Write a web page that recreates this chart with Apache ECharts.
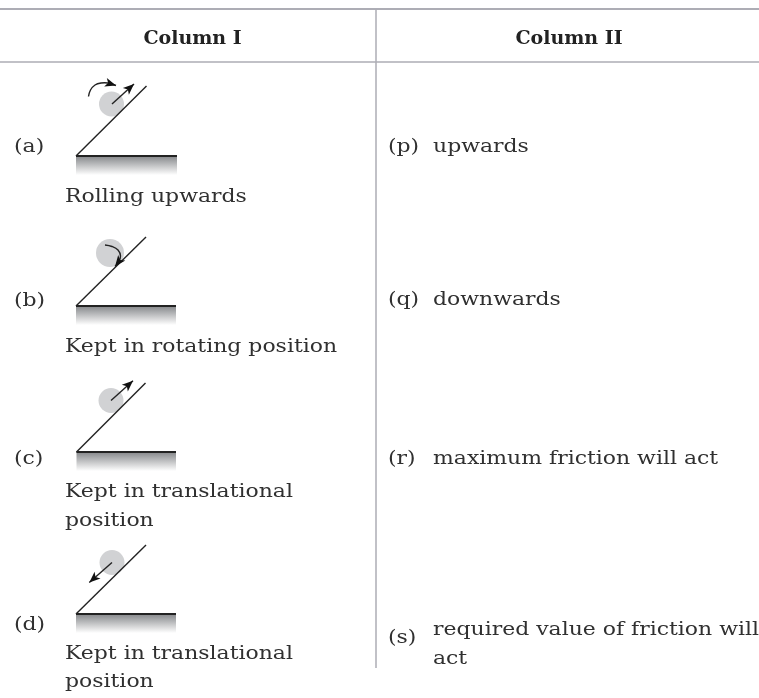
<!DOCTYPE html>
<html><head><meta charset="utf-8">
<style>html,body{margin:0;padding:0;background:#fff}#c{width:759px;height:698px}</style>
<script src="https://cdn.jsdelivr.net/npm/echarts@6/dist/echarts.min.js"></script>
</head><body><div id="c"></div>
<script>
// text: [x, baseline y, string]
var headers = [[192.5,45,'Column I'],[569,45,'Column II']];
var bodyTexts = [
 [14,153,'(a)'],[65,203,'Rolling upwards'],
 [14,307,'(b)'],[65,353,'Kept in rotating position'],
 [14,465,'(c)'],[65,498,'Kept in translational'],[65,527,'position'],
 [14,631,'(d)'],[65,660,'Kept in translational'],[65,688,'position'],
 [388,153,'(p)'],[433,153,'upwards'],
 [388,306,'(q)'],[433,306,'downwards'],
 [388,465,'(r)'],[433,465,'maximum friction will act'],
 [388,644,'(s)'],[433,636,'required value of friction will'],[433,665,'act']
];
// table rules: [x1,y1,x2,y2,width]
var rules = [[0,9,759,9,2],[0,62,759,62,1.5],[376,9,376,668,1.5]];
// inclined planes: left foot x,y ; top of incline x,y ; right end x
var planes = [[76,156,146.5,86,177],[76,306,146,237,176],[76.5,452,145.5,383,176],[76,614,146,545,176]];
// rolling bodies: cx, cy, r
var discs = [[111.5,104,12.5],[110,253,14],[111,400.5,12.5],[112,562.5,12.5]];
// arrows as point lists, arrowhead on last point
var arrows = [
 [[112,104],[134,84]],
 [[88.5,96.5],[90.5,90],[95,85],[101,83],[108,83],[116,85.5]],
 [[105,245],[112,246.5],[118,250],[120.5,256],[118.5,262],[115,266.5]],
 [[111,400.5],[133,380.7]],
 [[112,562.5],[89.3,582.5]]
];
function head(api,p,q,len,wid,color){
  var a=api.coord(p),b=api.coord(q);
  var dx=b[0]-a[0],dy=b[1]-a[1],l=Math.sqrt(dx*dx+dy*dy);dx/=l;dy/=l;
  var nx=-dy,ny=dx;
  return {type:'polygon',shape:{points:[
    b,
    [b[0]-dx*len+nx*wid,b[1]-dy*len+ny*wid],
    [b[0]-dx*len*0.75,b[1]-dy*len*0.75],
    [b[0]-dx*len-nx*wid,b[1]-dy*len-ny*wid]
  ]},style:{fill:color}};
}
var ink='#222';
var serif='"DejaVu Serif"';
var option={
 animation:false,
 backgroundColor:'#fff',
 grid:{left:0,right:0,top:0,bottom:0},
 xAxis:{type:'value',min:0,max:759,show:false},
 yAxis:{type:'value',min:0,max:698,inverse:true,show:false},
 series:[
  {type:'custom',coordinateSystem:'cartesian2d',silent:true,clip:false,data:rules,
   encode:{x:0,y:1},
   renderItem:function(p,api){
    var a=api.coord([api.value(0),api.value(1)]),b=api.coord([api.value(2),api.value(3)]);
    return {type:'line',shape:{x1:a[0],y1:a[1],x2:b[0],y2:b[1]},style:{stroke:'#adadb5',lineWidth:api.value(4)}};
   }},
  {type:'custom',coordinateSystem:'cartesian2d',silent:true,clip:false,data:discs,
   encode:{x:0,y:1},
   renderItem:function(p,api){
    var c=api.coord([api.value(0),api.value(1)]);
    return {type:'circle',shape:{cx:c[0],cy:c[1],r:api.value(2)},style:{fill:'#d1d2d4'}};
   }},
  {type:'custom',coordinateSystem:'cartesian2d',silent:true,clip:false,data:planes,
   encode:{x:0,y:1},
   renderItem:function(p,api){
    var f=api.coord([api.value(0),api.value(1)]),t=api.coord([api.value(2),api.value(3)]),r=api.coord([api.value(4),api.value(1)]);
    return {type:'group',children:[
      {type:'rect',shape:{x:f[0],y:f[1],width:r[0]-f[0],height:19},style:{fill:new echarts.graphic.LinearGradient(0,0,0,1,[{offset:0,color:'#85878a'},{offset:1,color:'#ffffff'}])}},
      {type:'line',shape:{x1:f[0],y1:f[1],x2:t[0],y2:t[1]},style:{stroke:ink,lineWidth:1.4}},
      {type:'line',shape:{x1:f[0],y1:f[1],x2:r[0],y2:r[1]},style:{stroke:ink,lineWidth:2}}
    ]};
   }},
  {type:'custom',coordinateSystem:'cartesian2d',silent:true,clip:false,
   data:arrows.map(function(a,i){return [a[0][0],a[0][1],i];}),
   encode:{x:0,y:1},
   renderItem:function(p,api){
    var pts=arrows[api.value(2)];
    var n=pts.length;
    return {type:'group',children:[
      {type:'polyline',shape:{points:pts.map(function(q){return api.coord(q);}),smooth:n>2?0.4:0},style:{stroke:ink,lineWidth:1.4,fill:null}},
      head(api,pts[n-2],pts[n-1],11,4.5,'#111')
    ]};
   }},
  {type:'custom',coordinateSystem:'cartesian2d',silent:true,clip:false,data:bodyTexts,
   encode:{x:0,y:1},
   renderItem:function(p,api){
    var c=api.coord([api.value(0),api.value(1)-6]);
    return {type:'text',x:c[0],y:c[1],scaleX:1.155,style:{text:bodyTexts[p.dataIndex][2],fill:'#303030',font:'19px '+serif,textAlign:'left',textVerticalAlign:'middle'}};
   }},
  {type:'custom',coordinateSystem:'cartesian2d',silent:true,clip:false,data:headers,
   encode:{x:0,y:1},
   renderItem:function(p,api){
    var c=api.coord([api.value(0),api.value(1)-6]);
    return {type:'text',x:c[0],y:c[1],style:{text:headers[p.dataIndex][2],fill:'#222',font:'bold 19px '+serif,textAlign:'center',textVerticalAlign:'middle'}};
   }}
 ]
};
echarts.init(document.getElementById('c'),null,{renderer:'canvas'}).setOption(option);
</script></body></html>
